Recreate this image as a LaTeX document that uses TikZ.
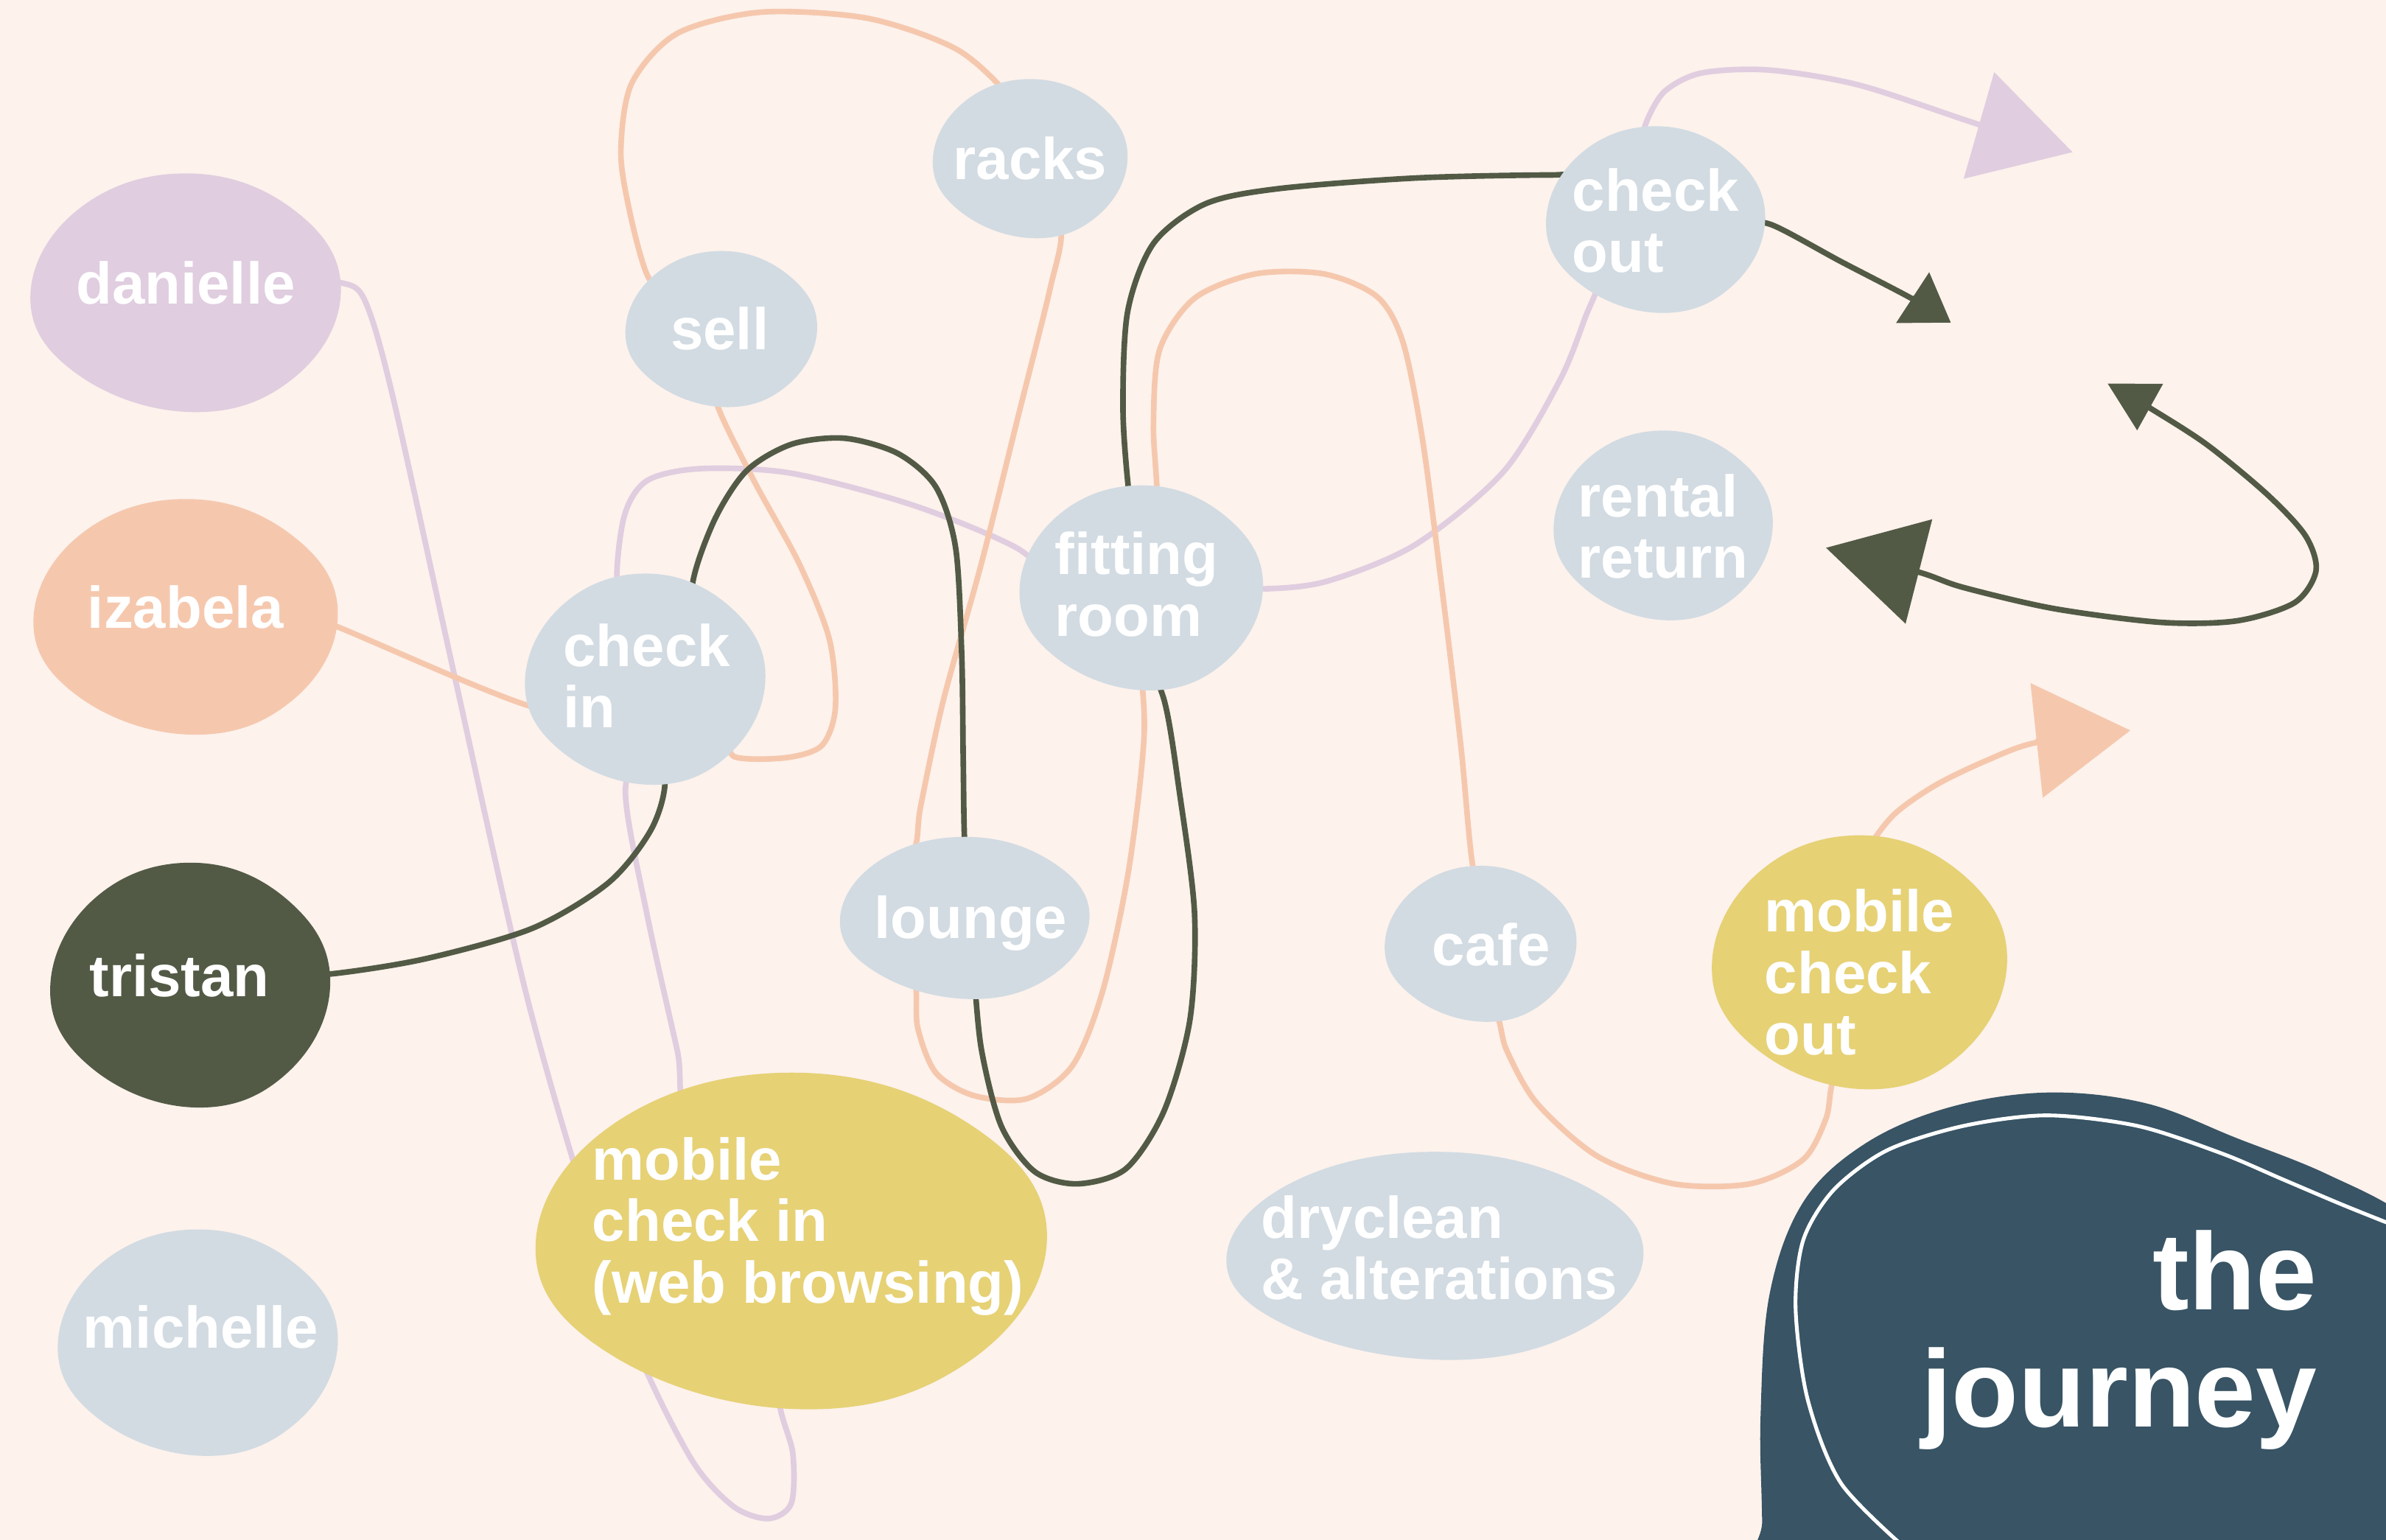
\documentclass[tikz,border=0pt]{standalone}
\usepackage{fontspec}
\setmainfont{Liberation Sans}
\usepackage{tikz}
\usepackage{xcolor}
\usetikzlibrary{
    positioning,
    calc,
    arrows.meta
}
\definecolor{Cream}{HTML}{FDF2EC}
\definecolor{Lilac}{HTML}{E0CDDF}
\definecolor{Peach}{HTML}{F5C8AE}
\definecolor{DarkOlive}{HTML}{525A45}
\definecolor{BlueGrey}{HTML}{D2DBE2}
\definecolor{Mustard}{HTML}{E6D175}
\definecolor{DeepBlue}{HTML}{385465}

\pgfdeclarelayer{paper}
\pgfdeclarelayer{paths}
\pgfdeclarelayer{blobs}
\pgfsetlayers{paper,paths,blobs,main}

\tikzset{
    spot/.style={
        text=white,
        font=\bfseries\fontsize{22}{23}\selectfont,
        align=left,
        inner sep=0pt
    },
    trail/.style={line width=2.1pt, line cap=round, line join=round},
    lilactrail/.style={trail, draw=Lilac},
    peachtrail/.style={trail, draw=Peach},
    olivetrail/.style={trail, draw=DarkOlive}
}

% blob: node, offset, x radius, y radius, colour
\newcommand{\blob}[5]{%
    \fill[#5] plot[smooth cycle, tension=0.7] coordinates {
        ($(#1)+(#2)+(#3,0)$)
        ($(#1)+(#2)+(0.69*#3,0.73*#4)$)
        ($(#1)+(#2)+(0.03*#3,1.01*#4)$)
        ($(#1)+(#2)+(-0.71*#3,0.68*#4)$)
        ($(#1)+(#2)+(-#3,0.02*#4)$)
        ($(#1)+(#2)+(-0.67*#3,-0.72*#4)$)
        ($(#1)+(#2)+(0.04*#3,-#4)$)
        ($(#1)+(#2)+(0.72*#3,-0.67*#4)$)
    };%
}

\begin{document}
\begin{tikzpicture}[x=0.02cm, y=-0.02cm]
    \useasboundingbox (0,0) rectangle (1568,1012);
    \begin{pgfonlayer}{paper}
        \fill[Cream] (0,0) rectangle (1568,1012);
    \end{pgfonlayer}

    \node[spot] (danielle) at (122,186) {danielle};
    \node[spot] (izabela) at (122,399) {izabela};
    \node[spot] (tristan) at (118,641) {tristan};
    \node[spot] (michelle) at (132,872) {michelle};
    \node[spot] (racks) at (677,104) {racks};
    \node[spot] (sell) at (473,216) {sell};
    \node[spot] (checkin) at (425,444) {check\\in};
    \node[spot] (fitting) at (747,384) {fitting\\room};
    \node[spot] (checkout) at (1088,145) {check\\out};
    \node[spot] (rental) at (1093,346) {rental\\return};
    \node[spot] (lounge) at (638,607) {lounge};
    \node[spot] (cafe) at (980,621) {cafe};
    \node[spot] (mco) at (1222,639) {mobile\\check\\out};
    \node[spot] (mci) at (531,806) {mobile\\check in\\(web browsing)};
    \node[spot] (dryclean) at (946,820) {dryclean\\\& alterations};
    \node[
        text=white,
        font=\bfseries\fontsize{41}{44}\selectfont,
        align=right,
        inner sep=0pt,
        anchor=north east
    ] (journey) at (1523,808) {the\\journey};

    \coordinate (lilacend) at (1362,100);
    \coordinate (peachend) at (1400,480);
    \coordinate (oliveend) at (1282,212);
    \coordinate (loopa) at (1385,252);
    \coordinate (loopb) at (1200,360);

    \begin{pgfonlayer}{blobs}
        \blob{danielle}{0,6}{102}{78}{Lilac}
        \blob{izabela}{0,6}{100}{77}{Peach}
        \blob{tristan}{7,6}{92}{80}{DarkOlive}
        \blob{michelle}{-2,10}{92}{74}{BlueGrey}
        \blob{racks}{0,0}{64}{52}{BlueGrey}
        \blob{sell}{1,0}{63}{51}{BlueGrey}
        \blob{checkin}{-1,2}{79}{69}{BlueGrey}
        \blob{fitting}{3,2}{80}{67}{BlueGrey}
        \blob{checkout}{0,-1}{72}{61}{BlueGrey}
        \blob{rental}{0,-1}{72}{62}{BlueGrey}
        \blob{lounge}{-4,-4}{82}{53}{BlueGrey}
        \blob{cafe}{-7,-1}{63}{51}{BlueGrey}
        \blob{mco}{0,-7}{97}{83}{Mustard}
        \blob{mci}{-11,9}{168}{110}{Mustard}
        \blob{dryclean}{-3,5}{137}{68}{BlueGrey}
        \begin{scope}
            \clip (0,0) rectangle (1568,1012);
            \fill[DeepBlue] plot[smooth cycle, tension=0.6] coordinates {
                (1160,1120) (1158,1000) (1157,930) (1163,850) (1185,790) (1225,752)
                (1280,728) (1345,718) (1410,725) (1470,748) (1530,772) (1590,805)
                (1680,880) (1720,1120)};
            \draw[white, line width=1.4pt] plot[smooth] coordinates {
                (1255,1020) (1210,975) (1188,920) (1180,860) (1185,815) (1205,782)
                (1240,756) (1290,740) (1345,733) (1405,740) (1460,758) (1500,775)
                (1540,792) (1580,808)};
        \end{scope}
    \end{pgfonlayer}

    \begin{pgfonlayer}{paths}
        \draw[lilactrail] plot[smooth] coordinates {
            (danielle.east) (225,186) (240,198) (258,260) (300,450) (345,650)
            (385,790) (420,890) (455,960) (482,990) (505,998) (520,988)
            (521,955) (512,915) (mci.south)};
        \draw[lilactrail] plot[smooth] coordinates {
            (mci.north) (455,735) (445,690) (425,600) (411,520) (checkin.south)};
        \draw[lilactrail] plot[smooth] coordinates {
            (checkin.north) (406,388) (410,340) (425,316) (460,308) (520,311)
            (600,332) (668,360) (fitting.west)};
        \draw[lilactrail] plot[smooth] coordinates {
            (fitting.east) (830,387) (872,382) (930,358) (988,310) (1025,250)
            (1042,208) (1050,185) (checkout.south west)};
        \draw[lilactrail, -{Triangle[length=1.28cm, width=1.44cm]}]
            plot[smooth] coordinates {
            (checkout.north) (1080,95) (1082,80) (1094,60) (1118,48) (1162,46)
            (1222,56) (1301,82) (lilacend)};

        \draw[peachtrail] plot[smooth] coordinates {
            (izabela.east) (222,412) (352,465) (checkin.west)};
        \draw[peachtrail] plot[smooth] coordinates {
            (checkin.south east) (482,497) (516,498) (540,490) (549,465) (545,420)
            (525,370) (495,315) (470,262) (sell.south)};
        \draw[peachtrail] plot[smooth] coordinates {
            (sell.north west) (425,180) (414,140) (408,100) (415,55) (445,22)
            (500,8) (570,12) (628,32) (662,62) (racks.north)};
        \draw[peachtrail] plot[smooth] coordinates {
            (racks.south) (697,150) (690,190) (670,270) (645,370) (620,460)
            (605,530) (600,560) (lounge.north west)};
        \draw[peachtrail] plot[smooth] coordinates {
            (lounge.south west) (600,640) (603,675) (615,705) (640,720) (675,722)
            (705,700) (725,650) (742,570) (752,480) (fitting.south)};
        \draw[peachtrail] plot[smooth] coordinates {
            (fitting.north) (760,332) (758,280) (762,230) (785,196) (825,180)
            (870,180) (905,195) (922,225) (935,290) (948,390) (960,490)
            (968,570) (cafe.north)};
        \draw[peachtrail] plot[smooth] coordinates {
            (cafe.south west) (980,660) (990,690) (1010,725) (1050,760) (1100,778)
            (1150,778) (1185,762) (1200,735) (1205,710) (mco.south)};
        \draw[peachtrail, -{Triangle[length=1.24cm, width=1.5cm]}]
            plot[smooth] coordinates {
            (mco.north) (1228,558) (1245,535) (1272,516) (1305,500) (1338,488)
            (peachend)};

        \draw[olivetrail] plot[smooth] coordinates {
            (tristan.east) (218,640) (280,630) (350,610) (400,580) (428,545)
            (437,512) (checkin.south)};
        \draw[olivetrail] plot[smooth] coordinates {
            (checkin.north east) (455,390) (468,345) (490,310) (520,292) (555,288)
            (590,298) (615,320) (628,360) (632,430) (633,500) (634,555)
            (lounge.north)};
        \draw[olivetrail] plot[smooth] coordinates {
            (lounge.south) (640,640) (645,690) (658,740) (680,770) (708,778)
            (740,768) (765,730) (782,670) (785,600) (775,520) (765,460)
            (fitting.south)};
        \draw[olivetrail] plot[smooth] coordinates {
            (fitting.north) (742,325) (738,270) (741,205) (758,160) (792,134)
            (840,124) (930,117) (1018,115) (1035,117) (checkout.west)};
        \draw[olivetrail, -{Triangle[length=0.6cm, width=0.78cm]}]
            plot[smooth] coordinates {
            (checkout.east) (1165,148) (1210,172) (1256,196) (oliveend)};
        \draw[olivetrail, {Triangle[length=0.64cm, width=0.68cm]}-{Triangle[length=1.26cm, width=1.4cm]}]
            plot[smooth] coordinates {
            (loopa) (1411,267) (1450,292) (1490,325) (1515,352) (1522,375)
            (1508,396) (1470,408) (1420,409) (1350,400) (1290,386) (1261,376)
            (loopb)};
    \end{pgfonlayer}
\end{tikzpicture}
\end{document}
